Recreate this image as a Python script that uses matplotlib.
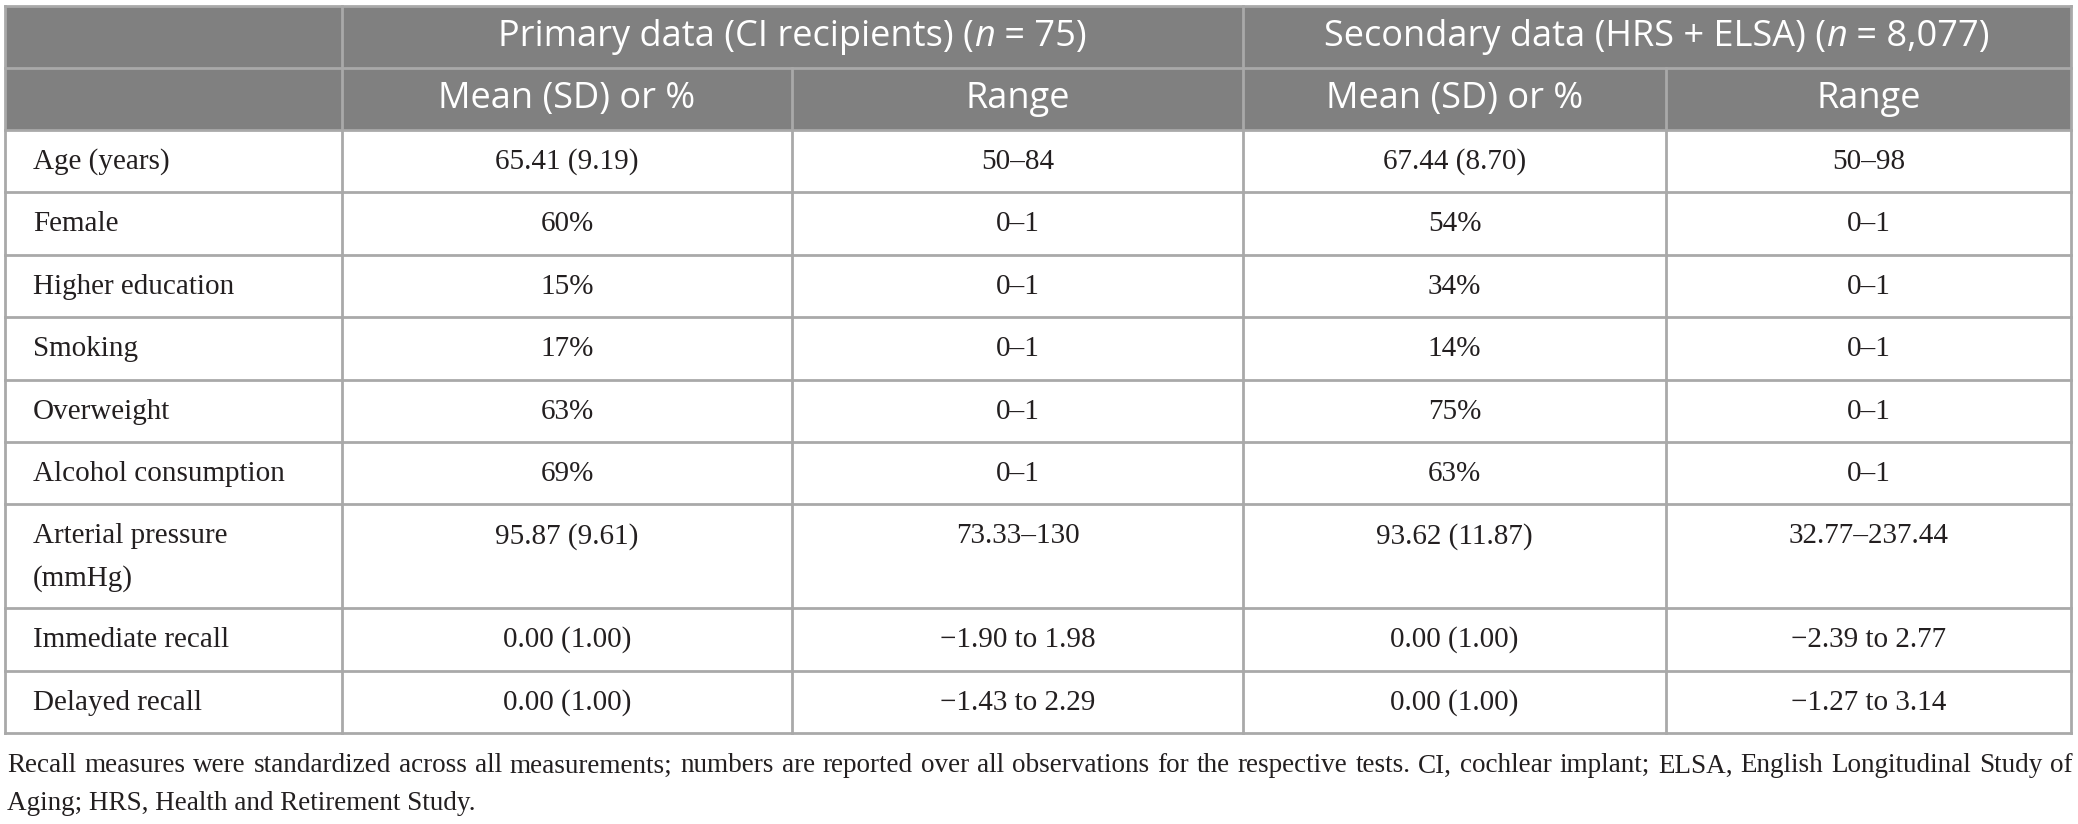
import matplotlib.pyplot as plt
from matplotlib.patches import Rectangle

row_labels = ["Age (years)", "Female", "Higher education", "Smoking", "Overweight",
              "Alcohol consumption", "Arterial pressure\n(mmHg)", "Immediate recall", "Delayed recall"]
primary_mean = ["65.41 (9.19)", "60%", "15%", "17%", "63%", "69%", "95.87 (9.61)",
                "0.00 (1.00)", "0.00 (1.00)"]
primary_range = ["50\u201384", "0\u20131", "0\u20131", "0\u20131", "0\u20131", "0\u20131",
                 "73.33\u2013130", "\u22121.90 to 1.98", "\u22121.43 to 2.29"]
secondary_mean = ["67.44 (8.70)", "54%", "34%", "14%", "75%", "63%", "93.62 (11.87)",
                  "0.00 (1.00)", "0.00 (1.00)"]
secondary_range = ["50\u201398", "0\u20131", "0\u20131", "0\u20131", "0\u20131", "0\u20131",
                   "32.77\u2013237.44", "\u22122.39 to 2.77", "\u22121.27 to 3.14"]
group_titles = [[("Primary data (CI recipients) (", "normal"), ("n", "italic"), (" = 75)", "normal")],
                [("Secondary data (HRS + ELSA) (", "normal"), ("n", "italic"), (" = 8,077)", "normal")]]
sub_titles = ["Mean (SD) or %", "Range", "Mean (SD) or %", "Range"]
footnote = ("Recall measures were standardized across all measurements; numbers are reported over all "
            "observations for the respective tests. CI, cochlear implant; ELSA, English Longitudinal Study of")
footnote2 = "Aging; HRS, Health and Retirement Study."

W, H = 2078, 824
fig = plt.figure(figsize=(W / 100, H / 100), dpi=100)
ax = fig.add_axes([0, 0, 1, 1])
ax.set_xlim(0, W)
ax.set_ylim(H, 0)
ax.axis("off")
renderer = fig.canvas.get_renderer()

cols = [5, 342, 792, 1243, 1666, 2071]
head = [5.5, 68, 130]
row_h = [62.4] * 9
row_h[6] = 103.5
row_h[7] = 63
row_h[8] = 62
body = [head[-1]]
for h in row_h:
    body.append(body[-1] + h)

header_bg = "#808080"
line_c = "#a9a9a9"
txt_c = "#231f20"
hfont = "Open Sans"
bfont = "Liberation Serif"
hsize = 26
bsize = 21
lw = 2.0

ax.add_patch(Rectangle((cols[0], head[0]), cols[-1] - cols[0], head[2] - head[0],
                       facecolor=header_bg, edgecolor="none"))

# grid lines
for y in head + body[1:]:
    ax.plot([cols[0], cols[-1]], [y, y], color=line_c, lw=lw, solid_capstyle="projecting")
for x in [cols[0], cols[1], cols[3], cols[5]]:
    ax.plot([x, x], [head[0], body[-1]], color=line_c, lw=lw, solid_capstyle="projecting")
for x in [cols[2], cols[4]]:
    ax.plot([x, x], [head[1], body[-1]], color=line_c, lw=lw)


def centered_pieces(pieces, xc, yc, **kw):
    texts = []
    for s, style in pieces:
        texts.append(ax.text(0, yc, s, style=style, va="center", ha="left", **kw))
    widths = [t.get_window_extent(renderer).width for t in texts]
    x = xc - sum(widths) / 2
    for t, w in zip(texts, widths):
        t.set_x(x)
        x += w


yc = (head[0] + head[1]) / 2
centered_pieces(group_titles[0], (cols[1] + cols[3]) / 2, yc, color="white", fontsize=hsize, family=hfont)
centered_pieces(group_titles[1], (cols[3] + cols[5]) / 2, yc, color="white", fontsize=hsize, family=hfont)
yc = (head[1] + head[2]) / 2
for i, s in enumerate(sub_titles):
    ax.text((cols[i + 1] + cols[i + 2]) / 2, yc, s, color="white", fontsize=hsize,
            family=hfont, ha="center", va="center")

columns = [primary_mean, primary_range, secondary_mean, secondary_range]
for r, label in enumerate(row_labels):
    y0 = body[r] + 32
    for k, line in enumerate(label.split("\n")):
        ax.text(33, y0 + k * 42, line, fontsize=bsize, family=bfont, color=txt_c,
                ha="left", va="center")
    for c, vals in enumerate(columns):
        ax.text((cols[c + 1] + cols[c + 2]) / 2, y0, vals[r], fontsize=bsize, family=bfont,
                color=txt_c, ha="center", va="center")

# justified first footnote line
fsize = 19.5
words = footnote.split(" ")
wt = [ax.text(0, 766, w, fontsize=fsize, family=bfont, color=txt_c, va="center", ha="left")
      for w in words]
ww = [t.get_window_extent(renderer).width for t in wt]
gap = (cols[-1] - cols[0] - sum(ww)) / (len(words) - 1)
x = cols[0] + 2
for t, w in zip(wt, ww):
    t.set_x(x)
    x += w + gap
ax.text(cols[0] + 2, 803, footnote2, fontsize=fsize, family=bfont, color=txt_c, va="center", ha="left")

fig.savefig("out.png", dpi=100)
